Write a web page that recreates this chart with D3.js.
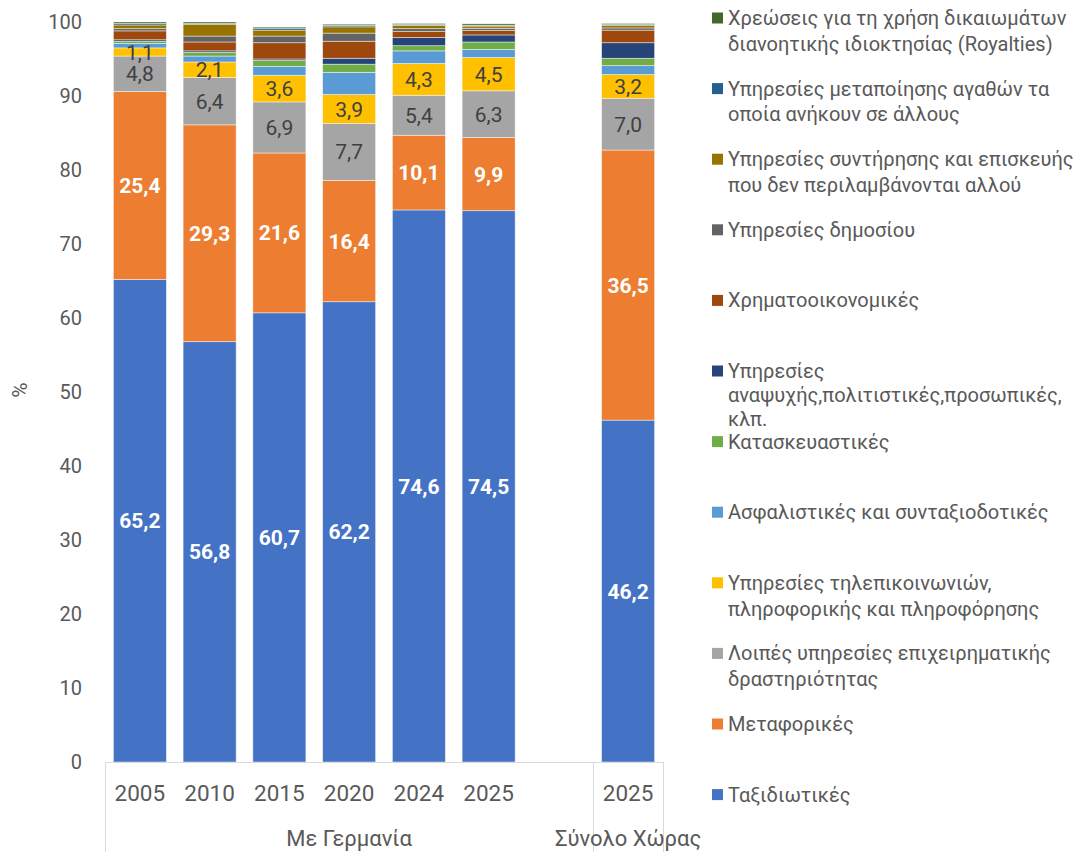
<!DOCTYPE html>
<html><head><meta charset="utf-8">
<script src="https://cdn.jsdelivr.net/npm/d3@7/dist/d3.min.js"></script>
<style>body{margin:0;background:#fff}svg{display:block}text{font-family:Roboto, "Noto Sans", sans-serif}</style>
</head><body><svg id="c" width="1077" height="852"></svg>
<script>
// Categories (x axis): year + group
const years = ["2005","2010","2015","2020","2024","2025","","2025"];
const groups = ["Με Γερμανία","Με Γερμανία","Με Γερμανία","Με Γερμανία","Με Γερμανία","Με Γερμανία","gap","Σύνολο Χώρας"];
const groupLabels = ["Με Γερμανία","Σύνολο Χώρας"];
// Series (bottom to top in the stack)
const seriesNames = [
  "Ταξιδιωτικές","Μεταφορικές","Λοιπές υπηρεσίες επιχειρηματικής δραστηριότητας",
  "Υπηρεσίες τηλεπικοινωνιών, πληροφορικής και πληροφόρησης","Ασφαλιστικές και συνταξιοδοτικές",
  "Κατασκευαστικές","Υπηρεσίες αναψυχής,πολιτιστικές,προσωπικές, κλπ.","Χρηματοοικονομικές",
  "Υπηρεσίες δημοσίου","Υπηρεσίες συντήρησης και επισκευής που δεν περιλαμβάνονται αλλού",
  "Υπηρεσίες μεταποίησης αγαθών τα οποία ανήκουν σε άλλους",
  "Χρεώσεις για τη χρήση δικαιωμάτων διανοητικής ιδιοκτησίας (Royalties)"];
// values per series, one per category (null for the empty slot)
const travel      = [65.2, 56.8, 60.7, 62.2, 74.6, 74.5, null, 46.2];
const transport   = [25.4, 29.3, 21.6, 16.4, 10.1,  9.9, null, 36.5];
const business    = [ 4.8,  6.4,  6.9,  7.7,  5.4,  6.3, null,  7.0];
const telecom     = [ 1.1,  2.1,  3.6,  3.9,  4.3,  4.5, null,  3.2];
const insurance   = [ 0.6,  0.8,  1.2,  3.0,  1.7,  1.1, null,  1.2];
const construction= [ 0.3,  0.5,  0.8,  1.1,  0.7,  1.0, null,  1.0];
const recreation  = [ 0.2,  0.2,  0.2,  0.8,  1.1,  0.95,null,  2.1];
const financial   = [ 1.2,  1.2,  2.2,  2.3,  0.8,  0.6, null,  1.7];
const government  = [ 0.3,  0.8,  0.9,  1.1,  0.4,  0.3, null,  0.3];
const maintenance = [ 0.5,  1.6,  0.8,  0.85, 0.45, 0.3, null,  0.35];
const processing  = [ 0.2,  0.1,  0.2,  0.2,  0.1,  0.1, null,  0.1];
const royalties   = [ 0.2,  0.2,  0.2,  0.15, 0.15, 0.2, null,  0.15];
const seriesValues = [travel,transport,business,telecom,insurance,construction,recreation,financial,government,maintenance,processing,royalties];
const colors = ["#4472C4","#ED7D31","#A5A5A5","#FFC000","#5B9BD5","#70AD47","#264478","#9E480E","#636363","#997300","#255E91","#43682B"];
// legend text lines (as wrapped in the original)
const legendLines = [
  ["Ταξιδιωτικές"],["Μεταφορικές"],["Λοιπές υπηρεσίες επιχειρηματικής","δραστηριότητας"],
  ["Υπηρεσίες τηλεπικοινωνιών,","πληροφορικής και πληροφόρησης"],["Ασφαλιστικές και συνταξιοδοτικές"],
  ["Κατασκευαστικές"],["Υπηρεσίες","αναψυχής,πολιτιστικές,προσωπικές,","κλπ."],["Χρηματοοικονομικές"],
  ["Υπηρεσίες δημοσίου"],["Υπηρεσίες συντήρησης και επισκευής","που δεν περιλαμβάνονται αλλού"],
  ["Υπηρεσίες μεταποίησης αγαθών τα","οποία ανήκουν σε άλλους"],
  ["Χρεώσεις για τη χρήση δικαιωμάτων","διανοητικής ιδιοκτησίας (Royalties)"]];
const yTicks = [0,10,20,30,40,50,60,70,80,90,100];
const labelledSeries = [0,1,2,3]; // series with data labels

(function(){
const labelStyle = [{fill:"#fff",weight:"bold"},{fill:"#fff",weight:"bold"},{fill:"#404040",weight:"normal"},{fill:"#404040",weight:"normal"}];
const svg = d3.select("#c");
const pLeft=105, pRight=663, pTop=22, pBottom=762;
const idx = d3.range(years.length);
const x = d3.scaleBand().domain(idx).range([pLeft,pRight]).paddingInner(0.24).paddingOuter(0.12);
const y = d3.scaleLinear().domain([0,100]).range([pBottom,pTop]);
const fmt = v => d3.format(".1f")(v).replace(".",",");

svg.append("g").selectAll("text").data(yTicks).join("text")
  .attr("x",82).attr("y",d=>y(d)).attr("dy","0.35em").attr("text-anchor","end")
  .attr("font-size",20).attr("fill","#595959").text(d=>d);
svg.append("text").attr("transform","translate(27,390) rotate(-90)").attr("text-anchor","middle")
  .attr("font-size",21).attr("fill","#595959").text("%");

const rows = idx.filter(i=>travel[i]!=null).map(i=>{const o={i}; seriesValues.forEach((s,k)=>o[k]=s[i]); return o;});
const stack = d3.stack().keys(d3.range(seriesValues.length))(rows);
const g = svg.append("g");
stack.forEach((layer,k)=>{
  g.append("g").attr("fill",colors[k]).selectAll("rect").data(layer).join("rect")
    .attr("x",d=>x(d.data.i)).attr("width",x.bandwidth())
    .attr("y",d=>y(d[1])).attr("height",d=>y(d[0])-y(d[1]))
    .attr("stroke","#fff").attr("stroke-opacity",0.6).attr("stroke-width",0.75);
});
labelledSeries.forEach(k=>{
  g.append("g").selectAll("text").data(stack[k]).join("text")
    .attr("x",d=>x(d.data.i)+x.bandwidth()/2).attr("y",d=>y((d[0]+d[1])/2)).attr("dy","0.36em")
    .attr("text-anchor","middle").attr("font-size",21).attr("font-weight",labelStyle[k].weight)
    .attr("fill",labelStyle[k].fill).text(d=>fmt(d.data[k]));
});

const ax = svg.append("g").attr("stroke","#d9d9d9").attr("stroke-width",1);
ax.append("line").attr("x1",pLeft).attr("x2",pRight).attr("y1",pBottom+0.5).attr("y2",pBottom+0.5);
const step = x.step();
const sepX = x(6)+x.bandwidth()+(step-x.bandwidth())/2;
[pLeft, sepX, pRight].forEach(v=>ax.append("line").attr("x1",Math.round(v)+0.5).attr("x2",Math.round(v)+0.5).attr("y1",pBottom).attr("y2",852));
svg.append("g").selectAll("text").data(idx.filter(i=>years[i])).join("text")
  .attr("x",i=>x(i)+x.bandwidth()/2).attr("y",793).attr("dy","0.35em").attr("text-anchor","middle")
  .attr("font-size",22.5).attr("fill","#595959").text(i=>years[i]);
groupLabels.forEach((gl,j)=>{
  const a = j===0? pLeft : sepX;
  const b = j===0? sepX : pRight;
  svg.append("text").attr("x",(a+b)/2).attr("y",838).attr("dy","0.35em").attr("text-anchor","middle")
    .attr("font-size",22).attr("fill","#595959").text(gl);
});

const lg = svg.append("g");
const order = d3.range(seriesNames.length).reverse();
order.forEach((k,j)=>{
  const yy = 18 + j*70.6;
  const lh = legendLines[k].length>2 ? 24.2 : 25.7;
  lg.append("rect").attr("x",712).attr("y",yy-5.5).attr("width",11).attr("height",11).attr("fill",colors[k]);
  const t = lg.append("text").attr("font-size",20).attr("fill","#595959");
  legendLines[k].forEach((ln,m)=>t.append("tspan").attr("x",728).attr("y",yy+m*lh).attr("dy","0.35em").text(ln));
});
})();
</script></body></html>
